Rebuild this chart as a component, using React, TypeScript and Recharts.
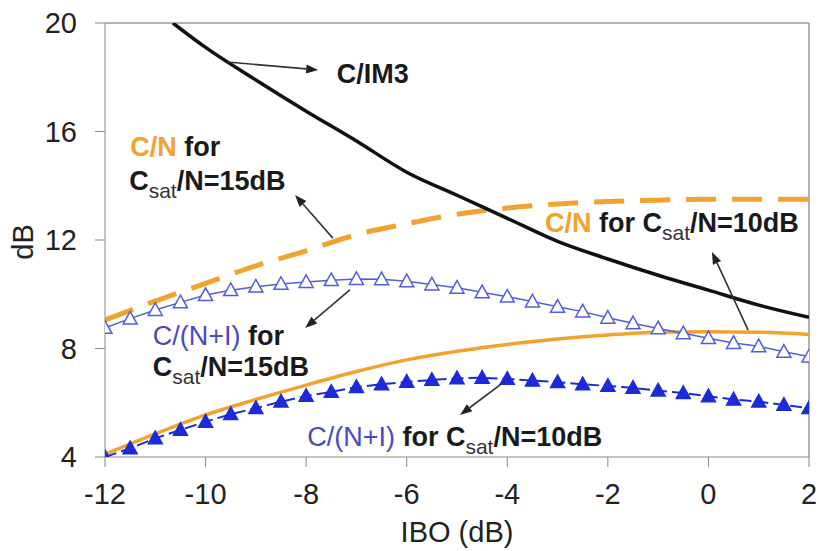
import React from "react";
import {
  LineChart,
  Line,
  XAxis,
  YAxis,
  ReferenceLine,
  ReferenceDot,
} from "recharts";

// IBO points (dB) where the C/(N+I) curves have markers
const iboMarks = [
  -12, -11.5, -11, -10.5, -10, -9.5, -9, -8.5, -8, -7.5, -7, -6.5, -6, -5.5, -5,
  -4.5, -4, -3.5, -3, -2.5, -2, -1.5, -1, -0.5, 0, 0.5, 1, 1.5, 2,
];
// C/(N+I) for Csat/N = 15dB (open triangles)
const cniSat15 = [
  8.76, 9.1, 9.42, 9.7, 9.97, 10.15, 10.28, 10.38, 10.45, 10.52, 10.56, 10.55,
  10.48, 10.36, 10.24, 10.07, 9.91, 9.73, 9.54, 9.36, 9.13, 8.93, 8.74, 8.56,
  8.38, 8.2, 8.08, 7.88, 7.7,
];
// C/(N+I) for Csat/N = 10dB (filled triangles)
const cniSat10 = [
  4.0, 4.32, 4.69, 5.0, 5.3, 5.58, 5.8, 6.04, 6.25, 6.4, 6.58, 6.68, 6.77, 6.84,
  6.9, 6.92, 6.88, 6.82, 6.76, 6.68, 6.62, 6.55, 6.45, 6.36, 6.24, 6.12, 6.04,
  5.92, 5.8,
];

// C/N curves
const iboCn = [-12, -11, -10, -9, -8, -7, -6, -5, -4, -3, -2, -1, 0, 1, 2];
const cnSat15 = [
  9.05, 9.75, 10.4, 11.05, 11.6, 12.2, 12.6, 12.95, 13.18, 13.33, 13.42, 13.47,
  13.5, 13.5, 13.5,
];
const cnSat10 = [
  4.1, 4.85, 5.55, 6.12, 6.65, 7.15, 7.58, 7.9, 8.15, 8.35, 8.5, 8.6, 8.62, 8.6,
  8.52,
];

// C/IM3
const iboIm3 = [-10.65, -10, -9, -8, -7, -6, -5, -4, -3, -2, -1, 0, 1, 2];
const cIm3 = [
  20, 19.1, 17.9, 16.75, 15.65, 14.5, 13.65, 12.8, 11.95, 11.3, 10.7, 10.15, 9.6,
  9.15,
];

const xTicks = [-12, -10, -8, -6, -4, -2, 0, 2];
const yTicks = [4, 8, 12, 16, 20];

const ORANGE = "#F2A22E";
const BLUE_TEXT = "#4A48C4";
const BLUE_OPEN = "#4F5EE0";
const BLUE_FILL = "#1B2BD8";
const FONT = "'Liberation Sans', Arial, sans-serif";

const pts = (xs: number[], ys: number[]) => xs.map((x, i) => ({ x, y: ys[i] }));

// annotation arrows: tail -> head, in data units
const arrows = [
  { from: [-9.57, 18.56], to: [-7.76, 18.27] },
  { from: [-7.47, 12.07], to: [-8.22, 13.66] },
  { from: [0.79, 8.68], to: [0.07, 11.56] },
  { from: [-7.13, 10.16], to: [-8.02, 8.76] },
  { from: [-4.09, 6.73], to: [-4.94, 5.55] },
];

type Seg = { t: string; color?: string; bold?: boolean; sub?: boolean };
const CSAT = (rest: string): Seg[] => [
  { t: "C" },
  { t: "sat", sub: true, bold: false, color: "#333" },
  { t: rest },
];

// annotation texts: left edge / vertical centre, in data units
const notes: { x: number; y: number; segs: Seg[] }[] = [
  { x: -7.39, y: 18.12, segs: [{ t: "C/IM3" }] },
  { x: -11.5, y: 15.43, segs: [{ t: "C/N", color: ORANGE }, { t: " for" }] },
  { x: -11.52, y: 14.17, segs: CSAT("/N=15dB") },
  {
    x: -3.25,
    y: 12.63,
    segs: [{ t: "C/N", color: ORANGE }, { t: " for " }, ...CSAT("/N=10dB")],
  },
  {
    x: -11.05,
    y: 8.46,
    segs: [{ t: "C/(N+I)", color: BLUE_TEXT, bold: false }, { t: " for" }],
  },
  { x: -11.05, y: 7.32, segs: CSAT("/N=15dB") },
  {
    x: -7.98,
    y: 4.74,
    segs: [
      { t: "C/(N+I)", color: BLUE_TEXT, bold: false },
      { t: " for " },
      ...CSAT("/N=10dB"),
    ],
  },
];

const Arrow = (p: any) => {
  const { x1, y1, x2, y2 } = p;
  const a = Math.atan2(y2 - y1, x2 - x1);
  const len = 12;
  const w = 4.5;
  const bx = x2 - len * Math.cos(a);
  const by = y2 - len * Math.sin(a);
  const s = Math.sin(a);
  const c = Math.cos(a);
  return (
    <g>
      <line x1={x1} y1={y1} x2={bx} y2={by} stroke="#333" strokeWidth={1.6} />
      <polygon
        points={`${x2},${y2} ${bx + w * s},${by - w * c} ${bx - w * s},${by + w * c}`}
        fill="#222"
      />
    </g>
  );
};

const noteShape = (segs: Seg[]) => (p: any) => {
  const out: React.ReactNode[] = [];
  let shifted = false;
  segs.forEach((s, i) => {
    let dy = 0;
    if (s.sub && !shifted) {
      dy = 9;
      shifted = true;
    } else if (!s.sub && shifted) {
      dy = -9;
      shifted = false;
    }
    out.push(
      <tspan
        key={i}
        dy={dy}
        fill={s.color || "#1a1a1a"}
        fontWeight={s.bold === false ? "normal" : "bold"}
        fontSize={s.sub ? 21 : 27}
      >
        {s.t}
      </tspan>
    );
  });
  return (
    <text
      x={p.cx}
      y={p.cy}
      dominantBaseline="central"
      fontFamily={FONT}
      style={{ whiteSpace: "pre" }}
    >
      {out}
    </text>
  );
};

const triangle = (fill: string, stroke: string) => (p: any) => {
  const { cx, cy, index } = p;
  if (cx == null || cy == null) return <g key={index} />;
  const h = 12;
  const w = 7;
  return (
    <polygon
      key={index}
      points={`${cx},${cy - h * 0.6} ${cx + w},${cy + h * 0.45} ${cx - w},${cy + h * 0.45}`}
      fill={fill}
      stroke={stroke}
      strokeWidth={1.5}
    />
  );
};

const YLabel = (p: any) => {
  const vb = p.viewBox || { x: 0, y: 23, width: 105, height: 434 };
  const cx = vb.x + 23;
  const cy = vb.y + vb.height / 2 + 2;
  return (
    <text
      x={cx}
      y={cy}
      transform={`rotate(-90 ${cx} ${cy})`}
      textAnchor="middle"
      dominantBaseline="central"
      fontSize={29}
      fontFamily={FONT}
      fill="#222"
    >
      dB
    </text>
  );
};

export default function App() {
  return (
    <div style={{ width: 819, height: 551, background: "#fff" }}>
      <style>{"body{margin:0}"}</style>
      <LineChart
        width={819}
        height={551}
        margin={{ top: 23, right: 10, bottom: 0, left: 0 }}
        style={{ fontFamily: FONT }}
      >
        <XAxis
          type="number"
          dataKey="x"
          domain={[-12, 2]}
          ticks={xTicks}
          allowDataOverflow
          height={94}
          tickSize={10}
          tickMargin={16}
          stroke="#888"
          tick={{ fontSize: 29, fill: "#222", fontFamily: FONT }}
          label={{
            value: "IBO (dB)",
            position: "insideBottom",
            offset: 9,
            fontSize: 29,
            fill: "#222",
            fontFamily: FONT,
          }}
        />
        <YAxis
          type="number"
          dataKey="y"
          domain={[4, 20]}
          ticks={yTicks}
          allowDataOverflow
          width={105}
          tickSize={10}
          tickMargin={18}
          stroke="#888"
          tick={{ fontSize: 29, fill: "#222", fontFamily: FONT }}
          label={{ value: "dB", content: YLabel }}
        />
        <ReferenceLine y={20} stroke="#999" strokeWidth={1.5} />
        <ReferenceLine x={2} stroke="#999" strokeWidth={1.5} />

        <Line
          data={pts(iboCn, cnSat15)}
          dataKey="y"
          type="monotone"
          stroke={ORANGE}
          strokeWidth={5}
          strokeDasharray="30 16"
          dot={false}
          isAnimationActive={false}
        />
        <Line
          data={pts(iboCn, cnSat10)}
          dataKey="y"
          type="monotone"
          stroke={ORANGE}
          strokeWidth={3.5}
          dot={false}
          isAnimationActive={false}
        />
        <Line
          data={pts(iboIm3, cIm3)}
          dataKey="y"
          type="monotone"
          stroke="#111"
          strokeWidth={3.5}
          dot={false}
          isAnimationActive={false}
        />
        <Line
          data={pts(iboMarks, cniSat15)}
          dataKey="y"
          type="linear"
          stroke={BLUE_OPEN}
          strokeWidth={1.5}
          dot={triangle("#fff", BLUE_OPEN)}
          isAnimationActive={false}
        />
        <Line
          data={pts(iboMarks, cniSat10)}
          dataKey="y"
          type="linear"
          stroke={BLUE_FILL}
          strokeWidth={2}
          strokeDasharray="12 5"
          dot={triangle(BLUE_FILL, BLUE_FILL)}
          isAnimationActive={false}
        />

        {arrows.map((a, i) => (
          <ReferenceLine
            key={`a${i}`}
            segment={[
              { x: a.from[0], y: a.from[1] },
              { x: a.to[0], y: a.to[1] },
            ]}
            shape={Arrow}
          />
        ))}
        {notes.map((n, i) => (
          <ReferenceDot
            key={`n${i}`}
            x={n.x}
            y={n.y}
            r={0}
            shape={noteShape(n.segs)}
          />
        ))}
      </LineChart>
    </div>
  );
}
